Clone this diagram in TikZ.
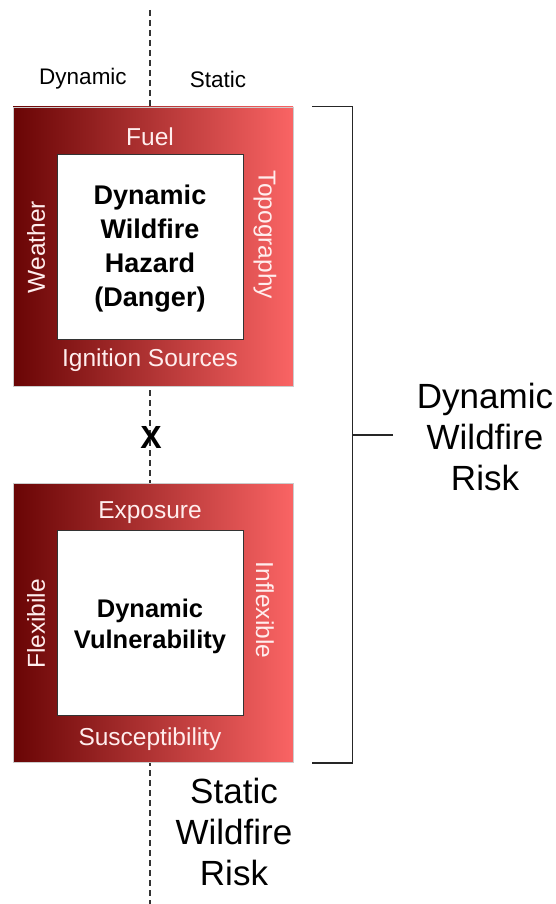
\documentclass[tikz,border=0pt]{standalone}
\usepackage{fontspec}
\setmainfont{Liberation Sans}
\usetikzlibrary{calc}
\definecolor{riskdark}{RGB}{105,5,5}
\definecolor{risklight}{RGB}{250,100,100}
\tikzset{
	factorbox/.style={draw=gray!40, line width=0.8pt, minimum width=280pt, minimum height=279pt, left color=riskdark, right color=risklight, shading angle=90},
	corebox/.style={draw=black!80, fill=white, line width=0.8pt, minimum width=186pt, minimum height=185pt, align=center, font=\fontsize{27}{34}\selectfont\bfseries},
	factor/.style={text=white!93!red, font=\fontsize{24.5}{26}\selectfont},
	splitline/.style={dash pattern=on 6pt off 4pt, line width=1.8pt, black!80},
	risklabel/.style={align=center, font=\fontsize{35}{41}\selectfont}
}

\begin{document}
\begin{tikzpicture}[x=1pt, y=-1pt]
	\useasboundingbox (0, 0) rectangle (555, 904);
	\coordinate (top)    at (150, 10);
	\coordinate (bottom) at (150, 904);
	\draw[splitline] (top) -- (bottom);

	\node[font=\fontsize{22.5}{24}\selectfont] (dyn) at (83, 79)  {Dynamic};
	\node[font=\fontsize{22.5}{24}\selectfont] (sta) at (218, 79) {Static};

	\node[factorbox] (hazard) at (153, 246.5) {};
	\node[corebox, text depth=0pt] (hazardcore) at (150, 246.5) {};
	\node[align=center, font=\fontsize{27}{34}\selectfont\bfseries] (hazardtext) at (150, 249) {Dynamic\\Wildfire\\Hazard\\(Danger)};
	\node[factor]                    (fuel)     at (150, 137) {Fuel};
	\node[factor]                    (ignition) at (150, 360) {Ignition Sources};
	\node[factor, rotate=90]         (weather)  at (36, 247)  {Weather};
	\node[factor, rotate=-90]        (topo)     at (265, 235) {Topography};

	\node[font=\fontsize{32}{34}\selectfont\bfseries] (times) at (151, 437) {X};

	\node[factorbox] (vuln) at (153, 623) {};
	\node[corebox]   (vulncore) at (150, 623) {};
	\node[align=center, font=\fontsize{25.5}{31}\selectfont\bfseries] (vulntext) at (150, 626) {Dynamic\\Vulnerability};
	\node[factor]                    (exposure) at (150, 513) {Exposure};
	\node[factor]                    (suscept)  at (150, 739) {Susceptibility};
	\node[factor, rotate=90]         (flex)     at (36, 624)  {Flexibile};
	\node[factor, rotate=-90]        (inflex)   at (265, 610) {Inflexible};

	\coordinate (brtop) at ($(hazard.north east) + (19, 0)$);
	\coordinate (brbot) at ($(vuln.south east) + (19, 0)$);
	\coordinate (brtip) at (393, 435);
	\draw[line width=1.6pt, black!85] (brtop) -- ++(40, 0) |- (brbot);
	\draw[line width=1.6pt, black!85] (brtip) -- (352, 435);

	\node[risklabel] (dynrisk) at (485, 437) {Dynamic\\Wildfire\\Risk};
	\node[risklabel] (starisk) at (234, 832) {Static\\Wildfire\\Risk};
\end{tikzpicture}
\end{document}
